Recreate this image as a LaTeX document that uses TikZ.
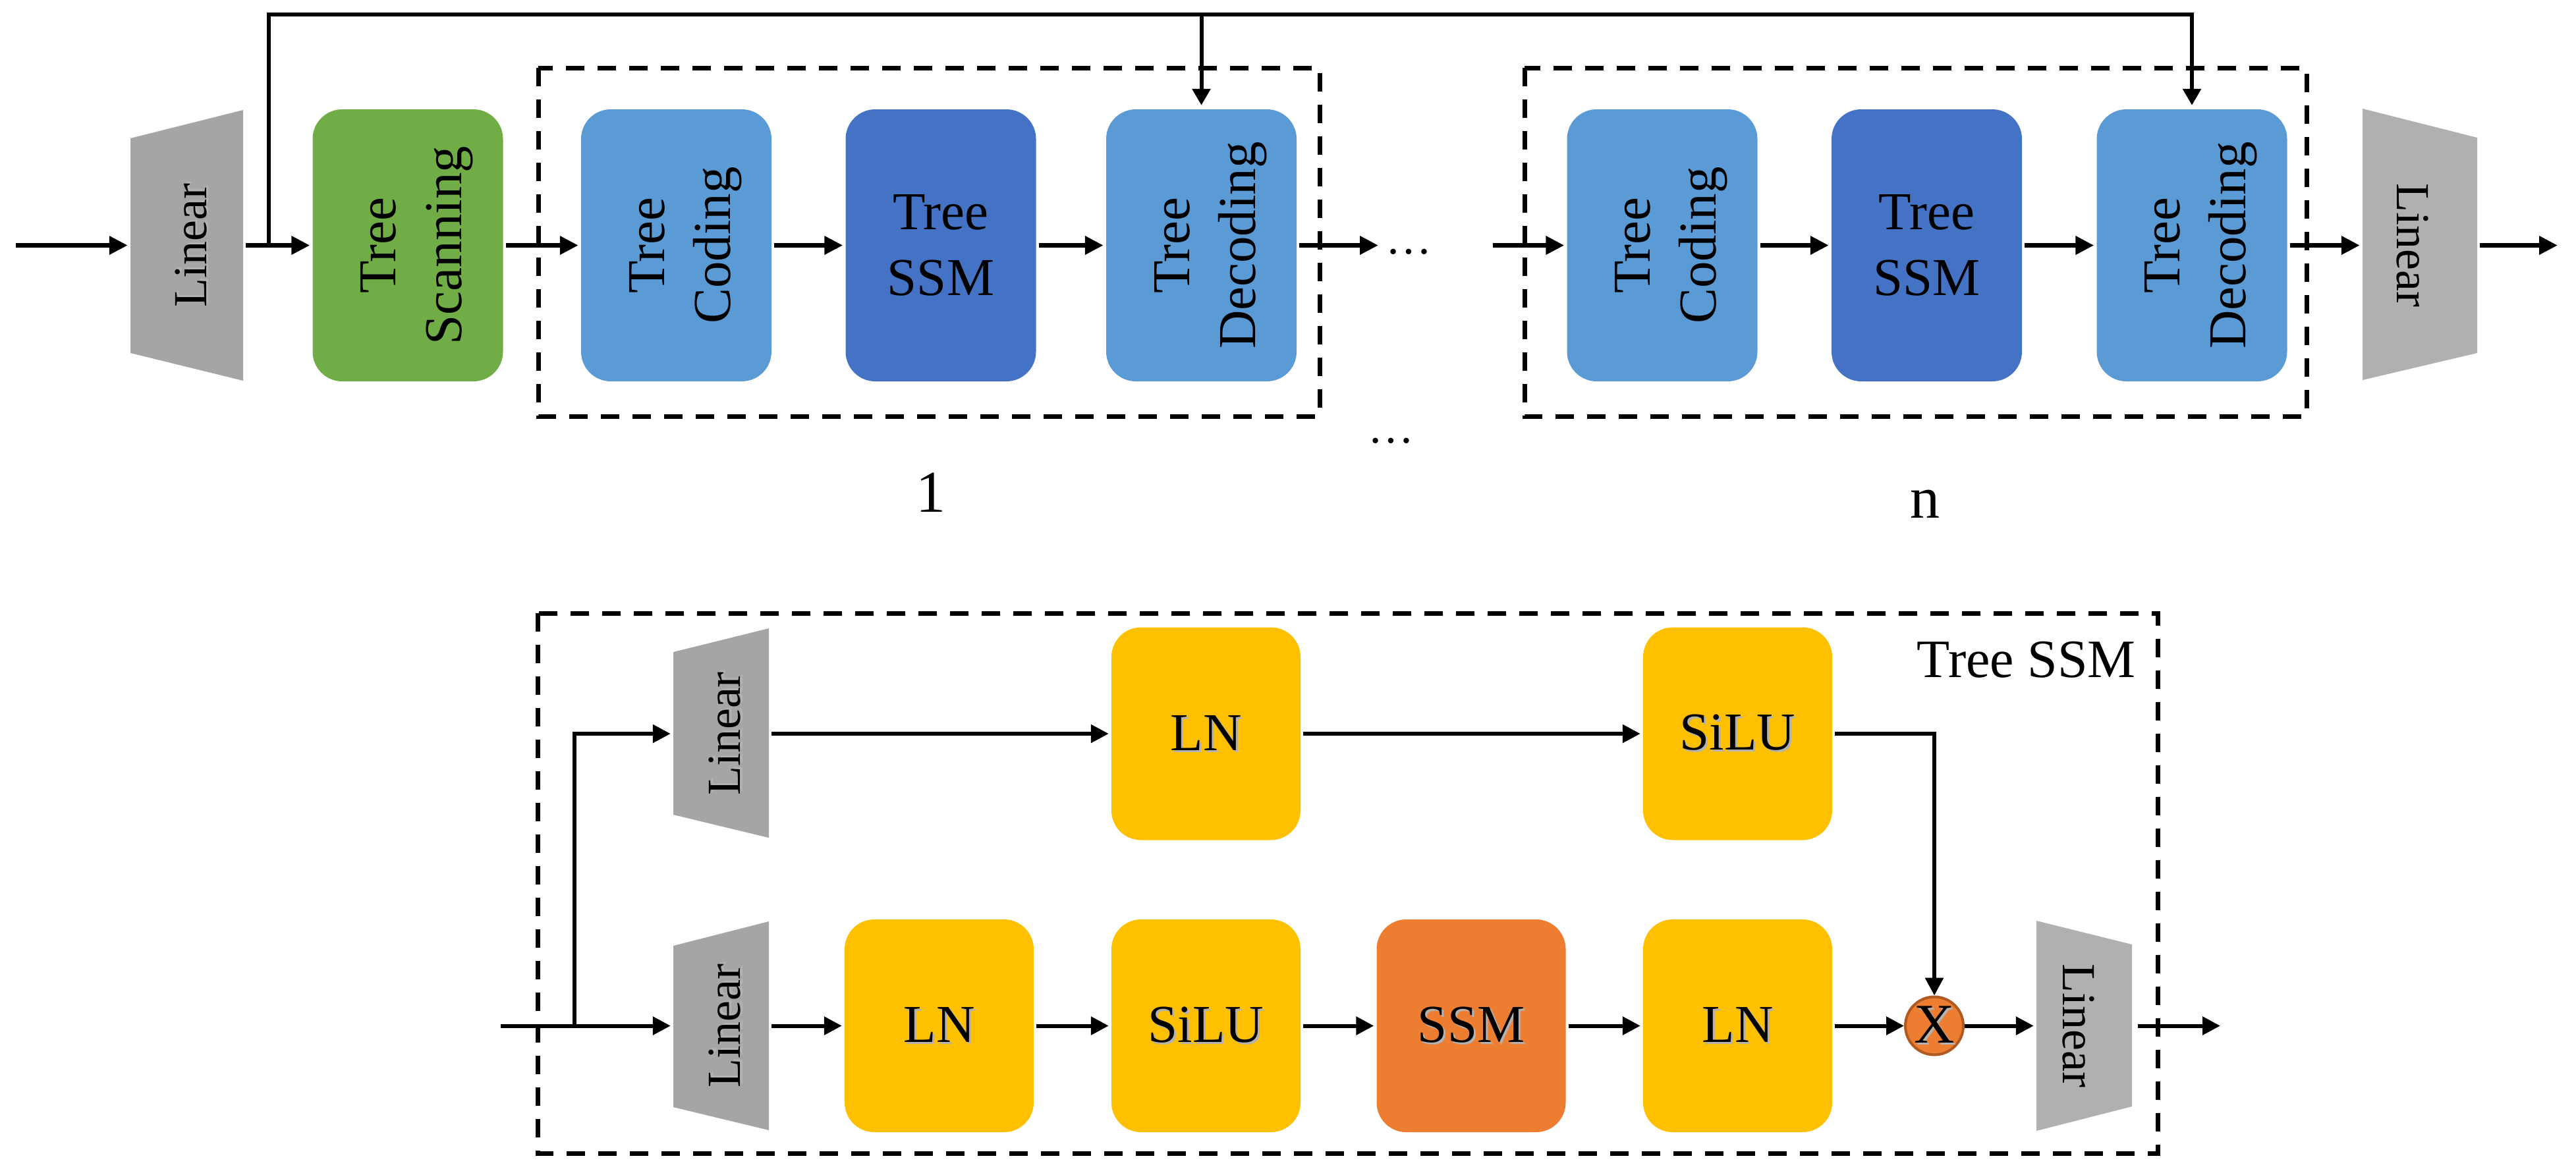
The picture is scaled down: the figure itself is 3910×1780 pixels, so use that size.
\documentclass[tikz,border=0pt]{standalone}
\usepackage{fontspec}
\setmainfont{Liberation Serif}
\usetikzlibrary{arrows.meta,calc}
\definecolor{lgray}{HTML}{A5A5A5}
\definecolor{rgray}{HTML}{B0B0B0}
\definecolor{cgreen}{HTML}{70AD47}
\definecolor{lblue}{HTML}{5B9BD5}
\definecolor{dblue}{HTML}{4472C4}
\definecolor{cyellow}{HTML}{FFC000}
\definecolor{corange}{HTML}{ED7D31}
\definecolor{cbrown}{HTML}{AE5A21}
\newcommand\shd[1]{\leavevmode\rlap{\kern3pt\raisebox{-3pt}{\textcolor{black!30}{#1}}}#1}
\begin{document}
\begin{tikzpicture}[x=1pt,y=-1pt,
  arr/.style={line width=7pt, -{Triangle[length=28pt,width=27pt]}, shorten <=4pt, shorten >=4pt},
  arrb/.style={line width=6pt, -{Triangle[length=27pt,width=27pt]}, shorten <=4pt, shorten >=4pt},
  fb/.style={line width=6pt, -{Triangle[length=25pt,width=27pt]}, shorten >=6pt},
  dbox/.style={line width=7pt, dash pattern=on 28pt off 20pt},
  blk/.style={rectangle, rounded corners=45pt, minimum width=289pt, minimum height=413pt, inner sep=0pt, font=\fontsize{81}{100}\selectfont, align=center},
  sblk/.style={rectangle, rounded corners=45pt, minimum width=287pt, minimum height=323pt, inner sep=0pt, font=\fontsize{81}{100}\selectfont},
  rtxt/.style={font=\fontsize{81}{100}\selectfont, align=center, inner sep=0pt, rotate=90},
  lin/.style={rectangle, inner sep=0pt},
  lintxt/.style={font=\fontsize{72}{80}\selectfont, inner sep=0pt},
  dotstyle/.style={font=\fontsize{70}{80}\selectfont, inner sep=0pt},
  labstyle/.style={font=\fontsize{90}{100}\selectfont, inner sep=0pt, anchor=base},
]
\useasboundingbox (0,0) rectangle (3910,1780);

% ---------------- top part ----------------
% dashed groups
\draw[dbox] (817,103) rectangle (2003,632);
\draw[dbox] (2314,103) rectangle (3501,632);

% Linear blocks
\fill[lgray] (198,210) -- (369,167) -- (369,578) -- (198,536) -- cycle;
\node[lin, minimum width=171pt, minimum height=411pt] (lin1) at (283.5,372.5) {};
\node[lintxt, rotate=90] (lin1t) at (292,372.5) {\shd{Linear}};
\fill[rgray] (3586,165) -- (3760,209) -- (3760,536) -- (3586,577) -- cycle;
\node[lin, minimum width=174pt, minimum height=412pt] (lin2) at (3673,372.5) {};
\node[lintxt, rotate=-90] (lin2t) at (3660,372.5) {\shd{Linear}};

% blocks
\node[blk, fill=cgreen] (scan) at (619,372.5) {};
\node[rtxt] (scant) at ($(scan)+(14,0)$) {Tree\\Scanning};
\node[blk, fill=lblue] (cod1) at (1026.5,372.5) {};
\node[rtxt] (cod1t) at ($(cod1)+(14,0)$) {Tree\\Coding};
\node[blk, fill=dblue] (ssm1) at (1428,372.5) {Tree\\SSM};
\node[blk, fill=lblue] (dec1) at (1823.5,372.5) {};
\node[rtxt] (dec1t) at ($(dec1)+(14,0)$) {Tree\\Decoding};
\node[blk, fill=lblue] (cod2) at (2523,372.5) {};
\node[rtxt] (cod2t) at ($(cod2)+(14,0)$) {Tree\\Coding};
\node[blk, fill=dblue] (ssm2) at (2924.5,372.5) {Tree\\SSM};
\node[blk, fill=lblue] (dec2) at (3327,372.5) {};
\node[rtxt] (dec2t) at ($(dec2)+(14,0)$) {Tree\\Decoding};

% dots and labels
\node[dotstyle] (dots1) at (2138,382) {…};
\node[dotstyle] (dots2) at (2111,669) {…};
\node[labstyle] (lab1) at (1413,777) {1};
\node[labstyle] (labn) at (2922,786) {n};

% arrows
\coordinate (in0) at (24,372.5);
\coordinate (out0) at (3882,372.5);
\coordinate (d1e) at (2096,372.5);
\coordinate (d2s) at (2266,372.5);
\draw[arr, shorten <=0pt] (in0) -- (lin1.west);
\draw[arr] (lin1.east) -- (scan.west);
\draw[arr] (scan.east) -- (cod1.west);
\draw[arr] (cod1.east) -- (ssm1.west);
\draw[arr] (ssm1.east) -- (dec1.west);
\draw[arr] (dec1.east) -- (d1e);
\draw[arr, shorten <=0pt] (d2s) -- (cod2.west);
\draw[arr] (cod2.east) -- (ssm2.west);
\draw[arr] (ssm2.east) -- (dec2.west);
\draw[arr] (dec2.east) -- (lin2.west);
\draw[arr, shorten >=0pt] (lin2.east) -- (out0);

% feedback
\coordinate (br) at (408,372.5);
\coordinate (tp) at (408,22);
\draw[fb] (br) -- (tp) -| (dec2.north);
\draw[fb] (tp -| dec1.north) -- (dec1.north);

% ---------------- bottom part ----------------
\draw[dbox] (816,931) rectangle (3275,1751);
\node[font=\fontsize{82}{90}\selectfont, anchor=base east, inner sep=0pt] (tssm) at (3242,1028) {Tree SSM};

\fill[lgray] (1022,990) -- (1167,954) -- (1167,1272) -- (1022,1237) -- cycle;
\node[lin, minimum width=145pt, minimum height=318pt] (lint) at (1094.5,1114) {};
\node[lintxt, rotate=90] (lintt) at (1102,1114) {\shd{Linear}};
\fill[lgray] (1022,1436) -- (1167,1399) -- (1167,1716) -- (1022,1681) -- cycle;
\node[lin, minimum width=145pt, minimum height=317pt] (linb) at (1094.5,1557.5) {};
\node[lintxt, rotate=90] (linbt) at (1102,1557.5) {\shd{Linear}};
\fill[rgray] (3091,1398) -- (3236,1434) -- (3236,1680) -- (3091,1717) -- cycle;
\node[lin, minimum width=145pt, minimum height=319pt] (linr) at (3163.5,1557.5) {};
\node[lintxt, rotate=-90] (linrt) at (3153,1557.5) {\shd{Linear}};

\node[sblk, fill=cyellow] (lnt) at (1830.5,1114) {\shd{LN}};
\node[sblk, fill=cyellow] (silut) at (2637.5,1114) {\shd{SiLU}};
\node[sblk, fill=cyellow] (ln1) at (1425.5,1557.5) {\shd{LN}};
\node[sblk, fill=cyellow] (silub) at (1830.5,1557.5) {\shd{SiLU}};
\node[sblk, fill=corange] (ssm) at (2233,1557.5) {\shd{SSM}};
\node[sblk, fill=cyellow] (ln2) at (2637.5,1557.5) {\shd{LN}};
\node[circle, minimum size=88pt, inner sep=0pt, fill=corange, draw=cbrown, line width=4pt, font=\fontsize{85}{90}\selectfont] (mul) at (2936,1557.5) {\shd{X}};

\coordinate (bin) at (760,1557.5);
\coordinate (bbr) at (872,1557.5);
\coordinate (bout) at (3370,1557.5);
\draw[arrb, shorten <=0pt] (bin) -- (linb.west);
\draw[arrb, shorten <=0pt] (bbr) |- (lint.west);
\draw[arrb] (lint.east) -- (lnt.west);
\draw[arrb] (lnt.east) -- (silut.west);
\draw[arrb, shorten >=0pt] (silut.east) -| (mul.north);
\draw[arrb] (linb.east) -- (ln1.west);
\draw[arrb] (ln1.east) -- (silub.west);
\draw[arrb] (silub.east) -- (ssm.west);
\draw[arrb] (ssm.east) -- (ln2.west);
\draw[arrb, shorten >=0pt] (ln2.east) -- (mul.west);
\draw[arrb, shorten <=0pt] (mul.east) -- (linr.west);
\draw[arrb, shorten <=9pt, shorten >=0pt] (linr.east) -- (bout);
\end{tikzpicture}
\end{document}
